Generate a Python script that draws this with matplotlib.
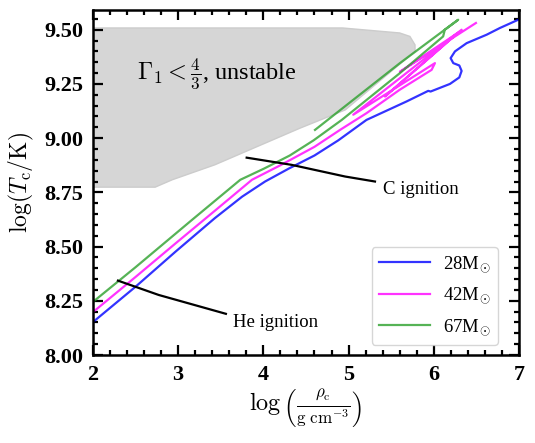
import numpy as np
import matplotlib
matplotlib.use("Agg")
import matplotlib.pyplot as plt

plt.rcParams['font.family'] = ['Liberation Serif', 'DejaVu Serif']
plt.rcParams['mathtext.fontset'] = 'cm'

# unstable region (Gamma_1 < 4/3)
gray_x = [2.0, 4.93, 5.60, 5.72, 5.78, 5.78, 4.96, 4.43, 3.43, 2.93, 2.73, 2.0]
gray_y = [9.508, 9.508, 9.485, 9.469, 9.43, 9.40, 9.13, 9.046, 8.877, 8.808, 8.774, 8.774]

# central tracks
m28_x = [2.0, 2.5, 2.97, 3.43, 3.75, 4.02, 4.3, 4.6, 4.88, 5.21, 5.68, 5.935, 5.963,
         6.19, 6.30, 6.327, 6.30, 6.229, 6.198, 6.249, 6.386, 6.621, 6.777, 6.992, 7.05]
m28_y = [8.152, 8.315, 8.477, 8.631, 8.73, 8.80, 8.86, 8.92, 8.99, 9.084, 9.169, 9.218, 9.215,
         9.25, 9.28, 9.31, 9.335, 9.346, 9.369, 9.40, 9.438, 9.477, 9.508, 9.546, 9.555]

m42_x = [2.0, 2.5, 2.97, 3.43, 3.866, 4.2, 4.6, 4.90, 5.21, 5.60, 5.975, 6.014,
         5.055, 6.327, 5.427, 6.284, 5.603, 6.495]
m42_y = [8.198, 8.36, 8.515, 8.665, 8.808, 8.875, 8.96, 9.038, 9.115, 9.223, 9.315, 9.346,
         9.108, 9.50, 9.192, 9.486, 9.306, 9.531]

m67_x = [2.0, 2.5, 3.162, 3.729, 4.01, 4.31, 4.59, 4.92, 5.603, 6.11, 6.13, 6.287,
         5.603, 4.606]
m67_y = [8.245, 8.405, 8.623, 8.808, 8.86, 8.92, 8.99, 9.084, 9.30, 9.469, 9.50, 9.546,
         9.346, 9.038]

labels = [r'28M$_{\odot}$', r'42M$_{\odot}$', r'67M$_{\odot}$']

# ignition lines
he_x = [2.293, 2.771, 3.56]
he_y = [8.343, 8.277, 8.19]
c_x = [3.804, 4.33, 4.96, 5.31]
c_y = [8.910, 8.877, 8.823, 8.80]

fig = plt.figure(figsize=(5.35, 4.43), dpi=100)
ax = fig.add_axes([0.1738, 0.1986, 0.7962, 0.7784])

ax.fill(gray_x, gray_y, facecolor='0.84', edgecolor='0.80', lw=1, zorder=0)
ax.text(2.52, 9.298, r'$\Gamma_1 < \frac{4}{3}$, unstable', fontsize=17.5, va='center')

ax.plot(m28_x, m28_y, color='blue', alpha=0.8, lw=1.6, label=labels[0])
ax.plot(m42_x, m42_y, color='magenta', alpha=0.8, lw=1.6, label=labels[1])
ax.plot(m67_x, m67_y, color='C2', alpha=0.8, lw=1.6, label=labels[2])

ax.plot(he_x, he_y, color='k', lw=1.6)
ax.plot(c_x, c_y, color='k', lw=1.6)
ax.text(3.64, 8.152, 'He ignition', fontsize=13.5, va='center')
ax.text(5.40, 8.761, 'C ignition', fontsize=13.5, va='center')

ax.set_xlim(2, 7)
ax.set_ylim(8.0, 9.59)
ax.set_xticks([2, 3, 4, 5, 6, 7])
ax.set_yticks([8.0, 8.25, 8.5, 8.75, 9.0, 9.25, 9.5])
ax.set_yticklabels(['8.00', '8.25', '8.50', '8.75', '9.00', '9.25', '9.50'])
ax.xaxis.set_minor_locator(plt.MultipleLocator(0.2))
ax.yaxis.set_minor_locator(plt.MultipleLocator(0.05))
ax.tick_params(which='both', direction='in', top=True, right=True, width=1.6)
ax.tick_params(which='major', length=7, labelsize=16, pad=7)
ax.tick_params(which='minor', length=3.5)
for lab in ax.get_xticklabels() + ax.get_yticklabels():
    lab.set_fontweight('bold')
for sp in ax.spines.values():
    sp.set_linewidth(1.8)

ax.set_xlabel(r'$\log\left(\frac{\rho_{\rm c}}{\rm g\ cm^{-3}}\right)$', fontsize=17.5, labelpad=2)
ax.set_ylabel(r'$\log(T_{\rm c}/{\rm K})$', fontsize=17, labelpad=6)

ax.legend(loc='lower right', bbox_to_anchor=(0.951, 0.029), borderaxespad=0,
          fontsize=13.5, handlelength=2.7, handletextpad=0.7, labelspacing=0.6)

fig.savefig('out.png', dpi=100)
